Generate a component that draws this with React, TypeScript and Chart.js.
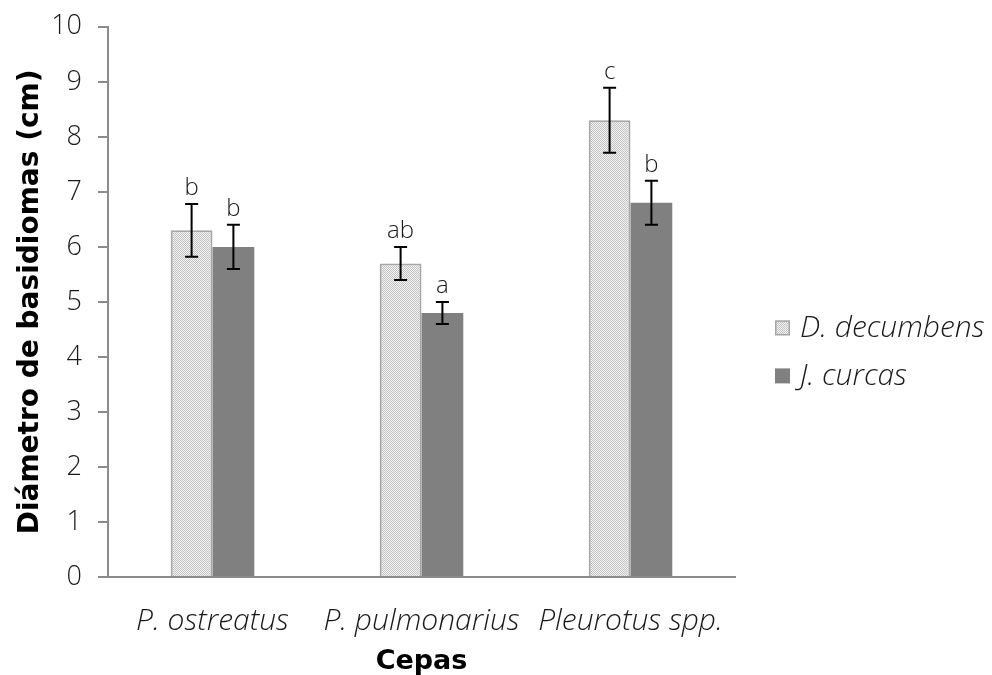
import { useEffect, useRef } from "react";
import { Chart, registerables } from "chart.js";

Chart.register(...registerables);

const categories = ["P. ostreatus", "P. pulmonarius", "Pleurotus spp."];
const seriesNames = ["D. decumbens", "J. curcas"];
const decumbensValues = [6.3, 5.7, 8.3];
const curcasValues = [6.0, 4.8, 6.8];
const decumbensErrors = [0.48, 0.3, 0.59];
const curcasErrors = [0.4, 0.2, 0.4];
const decumbensLetters = ["b", "ab", "c"];
const curcasLetters = ["b", "a", "b"];
const yMin = 0;
const yMax = 10;
const yStep = 1;
const yTitle = "Diámetro de basidiomas (cm)";
const xTitle = "Cepas";

const LIGHT = "'Open Sans', 'DejaVu Sans', sans-serif";
const BOLD = "'DejaVu Sans', sans-serif";

function makePattern(): CanvasPattern | string {
  const c = document.createElement("canvas");
  c.width = 2;
  c.height = 2;
  const g = c.getContext("2d");
  if (!g) return "#d9d9d9";
  g.fillStyle = "#f4f4f4";
  g.fillRect(0, 0, 2, 2);
  g.fillStyle = "#c2c2c2";
  g.fillRect(0, 0, 1, 1);
  g.fillRect(1, 1, 1, 1);
  const p = g.createPattern(c, "repeat");
  return p || "#d9d9d9";
}

const errorBarPlugin = {
  id: "errorBarsLetters",
  afterDatasetsDraw(chart: any) {
    const ctx = chart.ctx;
    const yScale = chart.scales.y;
    chart.data.datasets.forEach((ds: any, i: number) => {
      const meta = chart.getDatasetMeta(i);
      if (meta.hidden) return;
      meta.data.forEach((bar: any, j: number) => {
        const v = ds.data[j];
        const e = ds.errors[j];
        const yTop = yScale.getPixelForValue(v + e);
        const yBot = yScale.getPixelForValue(v - e);
        const x = bar.x;
        ctx.save();
        ctx.strokeStyle = "#000000";
        ctx.lineWidth = 2;
        ctx.beginPath();
        ctx.moveTo(x, yTop);
        ctx.lineTo(x, yBot);
        ctx.moveTo(x - 6.5, yTop);
        ctx.lineTo(x + 6.5, yTop);
        ctx.moveTo(x - 6.5, yBot);
        ctx.lineTo(x + 6.5, yBot);
        ctx.stroke();
        ctx.fillStyle = "#1a1a1a";
        ctx.font = `300 24px ${LIGHT}`;
        ctx.textAlign = "center";
        ctx.textBaseline = "alphabetic";
        ctx.fillText(ds.letters[j], x, yTop - 9);
        ctx.restore();
      });
    });
  },
};

const sideLegendPlugin = {
  id: "sideLegend",
  afterDraw(chart: any) {
    const { ctx, chartArea } = chart;
    const boxX = chartArea.right + 40;
    const mid = (chartArea.top + chartArea.bottom) / 2;
    const firstY = mid + 26;
    const step = 48;
    const box = 15;
    chart.data.datasets.forEach((ds: any, i: number) => {
      const cy = firstY + i * step;
      ctx.save();
      ctx.fillStyle = ds.backgroundColor;
      ctx.fillRect(boxX, cy - box / 2, box, box);
      if (ds.borderWidth > 0) {
        ctx.strokeStyle = ds.borderColor;
        ctx.lineWidth = 1.5;
        ctx.strokeRect(boxX + 0.75, cy - box / 2 + 0.75, box - 1.5, box - 1.5);
      }
      ctx.fillStyle = "#1a1a1a";
      ctx.font = `italic 300 30px ${LIGHT}`;
      ctx.textAlign = "left";
      ctx.textBaseline = "middle";
      ctx.fillText(ds.label, boxX + box + 10, cy + 1);
      ctx.restore();
    });
  },
};

export default function App() {
  const ref = useRef<HTMLCanvasElement>(null);

  useEffect(() => {
    document.body.style.margin = "0";
    const canvas = ref.current;
    if (!canvas) return;
    const pattern = makePattern();
    const chart = new Chart(canvas, {
      type: "bar",
      data: {
        labels: categories,
        datasets: [
          {
            label: seriesNames[0],
            data: decumbensValues,
            backgroundColor: pattern as any,
            borderColor: "#a6a6a6",
            borderWidth: 2,
            errors: decumbensErrors,
            letters: decumbensLetters,
          } as any,
          {
            label: seriesNames[1],
            data: curcasValues,
            backgroundColor: "#808080",
            borderColor: "#808080",
            borderWidth: 0,
            errors: curcasErrors,
            letters: curcasLetters,
          } as any,
        ],
      },
      options: {
        responsive: false,
        animation: false,
        layout: { padding: { top: 0, right: 257, bottom: 0, left: 0 } },
        datasets: {
          bar: { categoryPercentage: 0.4, barPercentage: 1.0 },
        },
        plugins: {
          tooltip: { enabled: false },
          legend: { display: false },
        },
        scales: {
          x: {
            afterFit: (s: any) => {
              s.height = 98;
            },
            grid: { display: false, drawTicks: false },
            border: { display: true, color: "#8c8c8c", width: 2 },
            ticks: {
              padding: 26,
              color: "#1a1a1a",
              font: { family: LIGHT, size: 30, style: "italic", weight: "300" as any },
            },
            title: {
              display: true,
              text: xTitle,
              color: "#000000",
              font: { family: BOLD, size: 27, weight: "bold", lineHeight: 1.0 },
              padding: { top: 0, bottom: 0 },
            },
          },
          y: {
            min: yMin,
            max: yMax,
            afterFit: (s: any) => {
              s.width = 108;
            },
            grid: {
              drawOnChartArea: false,
              drawTicks: true,
              tickLength: 10,
              color: "#8c8c8c",
              lineWidth: 2,
            },
            border: { display: true, color: "#8c8c8c", width: 2 },
            ticks: {
              stepSize: yStep,
              padding: 16,
              color: "#1a1a1a",
              font: { family: LIGHT, size: 27, weight: "300" as any, lineHeight: 0.8 },
            },
            title: {
              display: true,
              text: yTitle,
              color: "#000000",
              font: { family: BOLD, size: 28, weight: "bold" },
              padding: { top: 14, bottom: 0 },
            },
          },
        },
      },
      plugins: [errorBarPlugin, sideLegendPlugin],
    });
    return () => chart.destroy();
  }, []);

  return (
    <div style={{ width: 992, height: 675 }}>
      <canvas ref={ref} width={992} height={675} style={{ display: "block" }} />
    </div>
  );
}
